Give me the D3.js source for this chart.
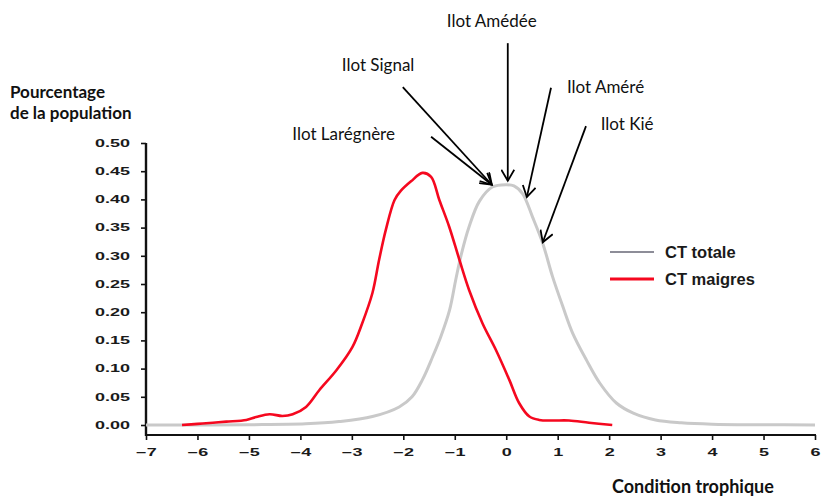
<!DOCTYPE html>
<html>
<head>
<meta charset="utf-8">
<script src="https://cdn.jsdelivr.net/npm/d3@7"></script>
<style>
  body { margin: 0; background: #fff; }
  svg { display: block; }
  .tick text { font-family: "Liberation Sans", Arial, sans-serif; font-weight: bold; font-size: 10px; fill: #1a1a1a; }
  .ann { font-family: Lato, "Open Sans", sans-serif; font-size: 17px; fill: #111; }
  .title { font-family: Lato, "Open Sans", sans-serif; font-weight: bold; font-size: 17px; fill: #111; }
  .leg { font-family: "Liberation Sans", Arial, sans-serif; font-weight: bold; font-size: 16.5px; fill: #1a1a1a; }
</style>
</head>
<body>
<div id="chart"></div>
<script>
// tick values
let xTicks = [-7, -6, -5, -4, -3, -2, -1, 0, 1, 2, 3, 4, 5, 6],
    yTicks = [0, 0.05, 0.10, 0.15, 0.20, 0.25, 0.30, 0.35, 0.40, 0.45, 0.50];

// CT totale (grey)
let totaleX = [-7, -5, -3.9, -3.25, -2.6, -2.08, -1.83, -1.63, -1.43, -1.27, -1.1, -0.98, -0.88, -0.72, -0.52, -0.27, 0, 0.15, 0.32, 0.51, 0.71, 0.9, 1.1, 1.29, 1.56, 1.82, 2.14, 2.47, 2.9, 3.4, 4, 5, 6],
    totaleY = [0, 0.0005, 0.002, 0.006, 0.015, 0.032, 0.05, 0.08, 0.121, 0.157, 0.204, 0.258, 0.30, 0.352, 0.397, 0.422, 0.426, 0.424, 0.41, 0.369, 0.322, 0.263, 0.21, 0.163, 0.115, 0.074, 0.039, 0.021, 0.009, 0.004, 0.0015, 0.0005, 0];

// CT maigres (red)
let maigresX = [-6.3, -6.0, -5.7, -5.44, -5.05, -4.86, -4.6, -4.35, -4.15, -3.89, -3.63, -3.3, -2.99, -2.8, -2.6, -2.47, -2.34, -2.17, -2.05, -1.85, -1.63, -1.46, -1.3, -1.11, -0.91, -0.72, -0.46, -0.2, 0.06, 0.25, 0.45, 0.64, 0.9, 1.22, 1.61, 2.06],
    maigresY = [0, 0.002, 0.004, 0.006, 0.009, 0.014, 0.019, 0.016, 0.019, 0.032, 0.062, 0.097, 0.138, 0.18, 0.234, 0.293, 0.346, 0.399, 0.415, 0.432, 0.447, 0.44, 0.399, 0.352, 0.293, 0.239, 0.18, 0.133, 0.08, 0.039, 0.015, 0.009, 0.008, 0.008, 0.004, 0];

// arrows pointing at the grey curve (data units)
let annNames = ["Ilot Amédée", "Ilot Signal", "Ilot Larégnère", "Ilot Améré", "Ilot Kié"],
    annText = [[-0.28, 0.706], [-2.49, 0.628], [-3.16, 0.505], [1.93, 0.589], [2.35, 0.523]],
    annTail = [[0.03, 0.677], [-2.01, 0.599], [-1.46, 0.511], [0.87, 0.598], [1.55, 0.530]],
    annTip  = [[0.03, 0.433], [-0.28, 0.426], [-0.28, 0.426], [0.40, 0.404], [0.71, 0.324]];

let W = 821, H = 496,
    svg = d3.select("#chart").append("svg").attr("width", W).attr("height", H),
    sx = 1.8; // tick labels are stretched wide

let x = d3.scaleLinear().domain([-7, 6]).range([146, 815]),
    y = d3.scaleLinear().domain([0, 0.5]).range([425, 143]),
    axisY = 435;

svg.append("rect").attr("width", W).attr("height", H).attr("fill", "#fff");

// y axis
let gy = svg.append("g").attr("transform", `translate(${x(-7)},0)`)
    .call(d3.axisLeft(y).tickValues(yTicks).tickFormat(d3.format(".2f")).tickSize(5).tickPadding(0));
gy.select(".domain").remove();
gy.selectAll(".tick line").attr("stroke", "#111").attr("stroke-width", 1.6);
gy.selectAll(".tick text").attr("x", -16 / sx).attr("transform", `scale(${sx},1)`);
gy.append("line").attr("x1", 0).attr("x2", 0).attr("y1", y(0.5)).attr("y2", axisY + 1)
    .attr("stroke", "#111").attr("stroke-width", 2.4);

// x axis
let gx = svg.append("g").attr("transform", `translate(0,${axisY})`)
    .call(d3.axisBottom(x).tickValues(xTicks).tickFormat(d3.format("d")).tickSize(5));
gx.select(".domain").remove();
gx.selectAll(".tick line").attr("stroke", "#111").attr("stroke-width", 1.6);
gx.selectAll(".tick text").attr("y", 21.5).attr("dy", 0).attr("transform", `scale(${sx},1)`);
gx.append("line").attr("x1", x(-7) - 1).attr("x2", x(6) + 1).attr("y1", 0).attr("y2", 0)
    .attr("stroke", "#111").attr("stroke-width", 2.2);

// curves
let line = d3.line().x(d => x(d[0])).y(d => y(d[1])).curve(d3.curveCatmullRom.alpha(0.5));

svg.append("path").datum(d3.zip(totaleX, totaleY))
    .attr("fill", "none").attr("stroke", "#c9c9c9").attr("stroke-width", 3).attr("d", line);
svg.append("path").datum(d3.zip(maigresX, maigresY))
    .attr("fill", "none").attr("stroke", "#f5081f").attr("stroke-width", 2.6).attr("d", line);

// axis titles
svg.append("text").attr("class", "title").attr("x", 10).attr("y", 98).text("Pourcentage");
svg.append("text").attr("class", "title").attr("x", 10).attr("y", 119).text("de la population");
svg.append("text").attr("class", "title").attr("x", 612).attr("y", 493).style("font-size", "18px").text("Condition trophique");

// legend
let leg = svg.append("g").attr("transform", "translate(610,0)");
leg.append("line").attr("x1", 0).attr("x2", 44).attr("y1", 252).attr("y2", 252)
    .attr("stroke", "#8d8d98").attr("stroke-width", 2);
leg.append("text").attr("class", "leg").attr("x", 55).attr("y", 258).text("CT totale");
leg.append("line").attr("x1", 0).attr("x2", 44).attr("y1", 279).attr("y2", 279)
    .attr("stroke", "#f5081f").attr("stroke-width", 3.2);
leg.append("text").attr("class", "leg").attr("x", 55).attr("y", 285).text("CT maigres");

// annotations
svg.append("defs").append("marker")
    .attr("id", "chev").attr("viewBox", "-12 -7 14 14")
    .attr("refX", 0).attr("refY", 0)
    .attr("markerWidth", 14).attr("markerHeight", 14)
    .attr("markerUnits", "userSpaceOnUse").attr("orient", "auto")
    .append("path").attr("d", "M-11,-6.5L0,0L-11,6.5")
    .attr("fill", "none").attr("stroke", "#000").attr("stroke-width", 1.8);

let ann = svg.append("g");
annNames.forEach((name, i) => {
    ann.append("line")
        .attr("x1", x(annTail[i][0])).attr("y1", y(annTail[i][1]))
        .attr("x2", x(annTip[i][0])).attr("y2", y(annTip[i][1]))
        .attr("stroke", "#000").attr("stroke-width", 1.8)
        .attr("marker-end", "url(#chev)");
    ann.append("text").attr("class", "ann")
        .attr("x", x(annText[i][0])).attr("y", y(annText[i][1]))
        .attr("text-anchor", "middle").text(name);
});
</script>
</body>
</html>
